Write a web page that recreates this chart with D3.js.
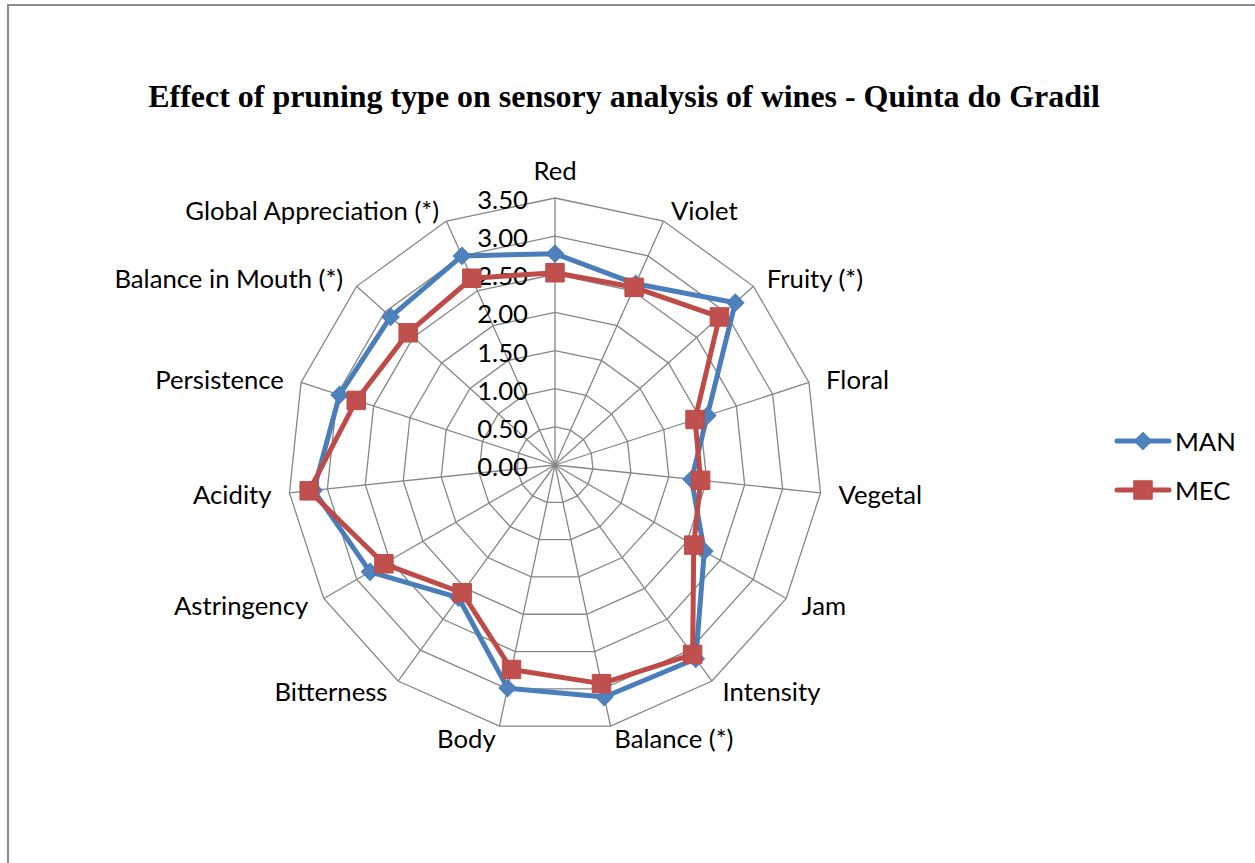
<!DOCTYPE html>
<html>
<head>
<meta charset="utf-8">
<script src="https://cdn.jsdelivr.net/npm/d3@7"></script>
<style>
  body { margin: 0; background: white; }
</style>
</head>
<body>
<div id="canvas"></div>
<script>
"use strict"

// data
let categories = ["Red", "Violet", "Fruity (*)", "Floral", "Vegetal", "Jam", "Intensity",
  "Balance (*)", "Body", "Bitterness", "Astringency", "Acidity", "Persistence",
  "Balance in Mouth (*)", "Global Appreciation (*)"];
let manValues = [2.77, 2.60, 3.18, 2.10, 1.80, 2.26, 3.14, 3.11, 2.99, 2.15, 2.80, 3.18, 2.97, 2.90, 3.00];
let mecValues = [2.52, 2.55, 2.90, 1.93, 1.92, 2.10, 3.07, 2.93, 2.74, 2.07, 2.59, 3.24, 2.74, 2.59, 2.68];
let tickValues = [0, 0.5, 1, 1.5, 2, 2.5, 3, 3.5];
let seriesNames = ["MAN", "MEC"];

let drawingWidth = 1255;
let drawingHeight = 863;
let cx = 555;
let cy = 465;
let radius = 267;
let labelFont = "Lato, 'Open Sans', sans-serif";

let drawing = d3.select("#canvas")
    .append("svg")
    .attr("width", drawingWidth)
    .attr("height", drawingHeight);

// frame lines (top and left only visible)
drawing.append("line")
  .attr("x1", 7).attr("x2", drawingWidth).attr("y1", 5).attr("y2", 5)
  .attr("stroke", "#8c8c8c").attr("stroke-width", 2);
drawing.append("line")
  .attr("x1", 8).attr("x2", 8).attr("y1", 5).attr("y2", drawingHeight)
  .attr("stroke", "#8c8c8c").attr("stroke-width", 2);

// title, fitted to the width seen in the picture
let title = drawing.append("text")
  .attr("x", 624)
  .attr("y", 107)
  .attr("text-anchor", "middle")
  .attr("font-family", "'Liberation Serif', 'Times New Roman', serif")
  .attr("font-weight", "bold")
  .attr("font-size", 30)
  .text("Effect of pruning type on sensory analysis of wines - Quinta do Gradil");
let tw = title.node().getComputedTextLength();
title.attr("font-size", 30 * 952 / tw);

let n = categories.length;
let r = d3.scaleLinear().domain([0, 3.5]).range([0, radius]);
let angle = d3.scaleLinear().domain([0, n]).range([0, 2 * Math.PI]);

let chart = drawing.append("g").attr("transform", `translate(${cx},${cy})`);

// grid rings
let ring = d3.lineRadial()
  .angle((d, i) => angle(i))
  .radius(d => r(d))
  .curve(d3.curveLinearClosed);

chart.selectAll(".ring")
  .data(tickValues.slice(1))
  .join("path")
  .attr("class", "ring")
  .attr("d", t => ring(categories.map(() => t)))
  .attr("fill", "none")
  .attr("stroke", "#868686")
  .attr("stroke-width", 1.3);

// spokes
chart.selectAll(".spoke")
  .data(categories)
  .join("line")
  .attr("class", "spoke")
  .attr("x1", 0).attr("y1", 0)
  .attr("x2", (d, i) => r(3.5) * Math.sin(angle(i)))
  .attr("y2", (d, i) => -r(3.5) * Math.cos(angle(i)))
  .attr("stroke", "#868686")
  .attr("stroke-width", 1.3);

// tick labels
let tickLabels = chart.selectAll(".tick")
  .data(tickValues)
  .join("text")
  .attr("class", "tick")
  .attr("x", -27)
  .attr("y", t => -r(t) + 1)
  .attr("text-anchor", "end")
  .attr("dominant-baseline", "central")
  .attr("font-family", labelFont)
  .attr("fill", "#000")
  .text(t => t.toFixed(2));

// category labels
let catLabels = chart.selectAll(".cat")
  .data(categories)
  .join("text")
  .attr("class", "cat")
  .attr("x", (d, i) => 285 * Math.sin(angle(i)))
  .attr("y", (d, i) => {
    let c = Math.cos(angle(i));
    if (Math.abs(Math.sin(angle(i))) < 0.1 && c > 0) return -(radius + 28);
    return -279 * c;
  })
  .attr("text-anchor", (d, i) => {
    let s = Math.sin(angle(i));
    return s > 0.1 ? "start" : (s < -0.1 ? "end" : "middle");
  })
  .attr("dominant-baseline", "central")
  .attr("font-family", labelFont)
  .attr("fill", "#000")
  .text(d => d);

// fit label font size: "Global Appreciation (*)" spans about 254px
catLabels.attr("font-size", 20);
tickLabels.attr("font-size", 20);
let probe = catLabels.filter(d => d === "Global Appreciation (*)").node().getComputedTextLength();
let fontSize = 20 * 254 / probe;
catLabels.attr("font-size", fontSize);
tickLabels.attr("font-size", fontSize);

// series
let lineColors = ["#4A7EBB", "#BE4B48"];
let markerColors = ["#4F81BD", "#C0504D"];
let seriesValues = [manValues, mecValues];

let diamond = d3.symbol(d3.symbolSquare, 150);
let square = d3.symbol(d3.symbolSquare, 340);

seriesValues.forEach((vals, k) => {
  chart.append("path")
    .attr("d", ring(vals))
    .attr("fill", "none")
    .attr("stroke", lineColors[k])
    .attr("stroke-width", 5)
    .attr("stroke-linejoin", "round");

  chart.selectAll(".m" + k)
    .data(vals)
    .join("path")
    .attr("class", "m" + k)
    .attr("d", k === 0 ? diamond() : square())
    .attr("transform", (d, i) => {
      let x = r(d) * Math.sin(angle(i));
      let y = -r(d) * Math.cos(angle(i));
      return `translate(${x},${y})` + (k === 0 ? " rotate(45)" : "");
    })
    .attr("fill", markerColors[k])
    .attr("stroke", lineColors[k])
    .attr("stroke-width", 1);
});

// legend
let legendY = [441, 490];
let legend = drawing.append("g");
seriesNames.forEach((name, k) => {
  legend.append("line")
    .attr("x1", 1117).attr("x2", 1169)
    .attr("y1", legendY[k]).attr("y2", legendY[k])
    .attr("stroke", lineColors[k])
    .attr("stroke-width", 5)
    .attr("stroke-linecap", "round");
  legend.append("path")
    .attr("d", k === 0 ? diamond() : square())
    .attr("transform", `translate(1143,${legendY[k]})` + (k === 0 ? " rotate(45)" : ""))
    .attr("fill", markerColors[k])
    .attr("stroke", lineColors[k]);
  legend.append("text")
    .attr("x", 1175)
    .attr("y", legendY[k])
    .attr("dominant-baseline", "central")
    .attr("font-family", labelFont)
    .attr("font-size", fontSize)
    .attr("fill", "#000")
    .text(name);
});
</script>
</body>
</html>
